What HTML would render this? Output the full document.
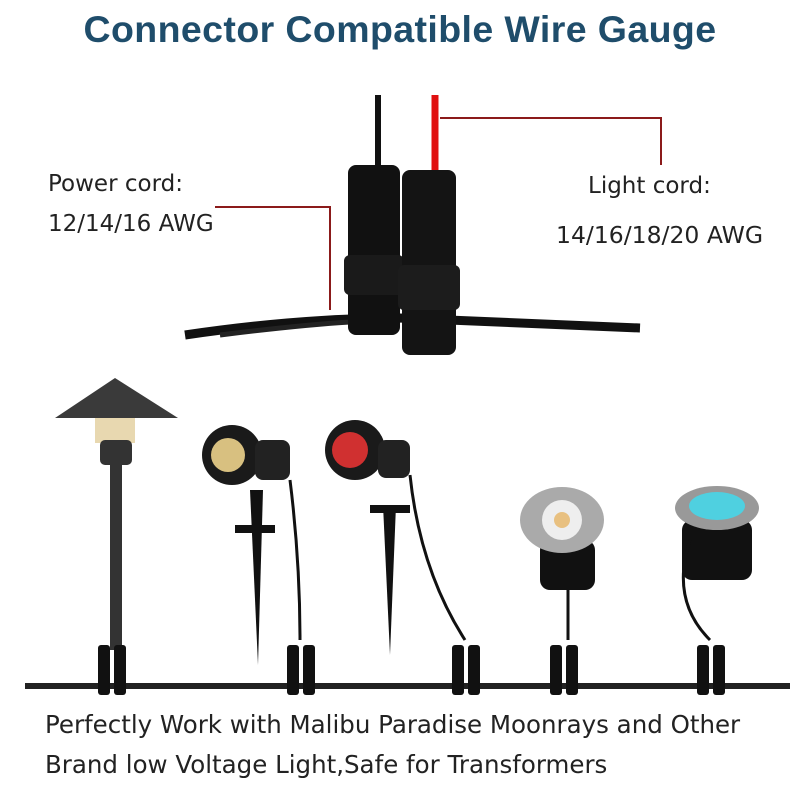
<!DOCTYPE html>
<html><head><meta charset="utf-8"><style>
body{margin:0;background:#fff;width:800px;height:800px;overflow:hidden;position:relative;font-family:"DejaVu Sans",sans-serif}
.t{position:absolute;white-space:nowrap;font-family:"DejaVu Sans",sans-serif}
</style></head><body>
<div class="t" style="left:0;width:800px;text-align:center;top:8px;font-size:37.5px;font-weight:bold;color:#1f4d6b;font-family:'Liberation Sans',sans-serif;letter-spacing:0.4px">Connector Compatible Wire Gauge</div>
<div class="t" style="left:48px;top:171px;font-size:23px;color:#222">Power cord:</div>
<div class="t" style="left:48px;top:211px;font-size:23px;color:#222">12/14/16 AWG</div>
<div class="t" style="left:588px;top:173px;font-size:23px;color:#222">Light cord:</div>
<div class="t" style="left:556px;top:221px;font-size:23.5px;color:#222">14/16/18/20 AWG</div>
<div class="t" style="left:45px;top:710px;font-size:24.5px;color:#222">Perfectly Work with Malibu Paradise Moonrays and Other</div>
<div class="t" style="left:45px;top:750px;font-size:24.5px;color:#222">Brand low Voltage Light,Safe for Transformers</div>
<svg width="800" height="800" style="position:absolute;left:0;top:0">
<path d="M378 95 L378 170" stroke="#111" stroke-width="6" fill="none"/>
<path d="M435 95 L435 175" stroke="#e01010" stroke-width="7" fill="none"/>
<path d="M185 335 Q300 318 400 318 L640 328" stroke="#111" stroke-width="9" fill="none"/>
<path d="M220 335 Q300 325 350 322" stroke="#222" stroke-width="5" fill="none"/>
<rect x="348" y="165" width="52" height="170" rx="8" fill="#111"/>
<rect x="344" y="255" width="60" height="40" rx="6" fill="#1a1a1a"/>
<rect x="402" y="170" width="54" height="185" rx="8" fill="#141414"/>
<rect x="398" y="265" width="62" height="45" rx="6" fill="#1c1c1c"/>
<path d="M215 207 L330 207 L330 310" stroke="#8b1a1a" stroke-width="2" fill="none"/>
<path d="M440 118 L661 118 L661 165" stroke="#8b1a1a" stroke-width="2" fill="none"/>
<path d="M25 686 L790 686" stroke="#222" stroke-width="6"/>
<path d="M55 418 L115 378 L178 418 Z" fill="#3a3a3a"/>
<rect x="95" y="418" width="40" height="25" fill="#e8d8b0"/>
<rect x="100" y="440" width="32" height="25" rx="5" fill="#333"/>
<rect x="110" y="465" width="12" height="185" fill="#333"/>
<circle cx="232" cy="455" r="30" fill="#1a1a1a"/><circle cx="228" cy="455" r="17" fill="#d8c080"/>
<rect x="255" y="440" width="35" height="40" rx="8" fill="#222"/>
<path d="M250 490 L258 665 L263 490 Z" fill="#111"/><rect x="235" y="525" width="40" height="8" fill="#111"/>
<path d="M290 480 Q300 560 300 640" stroke="#111" stroke-width="3" fill="none"/>
<circle cx="355" cy="450" r="30" fill="#1a1a1a"/><circle cx="350" cy="450" r="18" fill="#d03030"/>
<rect x="378" y="440" width="32" height="38" rx="8" fill="#222"/>
<path d="M383 505 L390 655 L396 505 Z" fill="#111"/><rect x="370" y="505" width="40" height="8" fill="#111"/>
<path d="M410 475 Q420 570 465 640" stroke="#111" stroke-width="3" fill="none"/>
<rect x="540" y="540" width="55" height="50" rx="10" fill="#111"/>
<ellipse cx="562" cy="520" rx="42" ry="33" fill="#aaa"/><circle cx="562" cy="520" r="20" fill="#eee"/><circle cx="562" cy="520" r="8" fill="#e8c080"/>
<path d="M568 590 L568 640" stroke="#111" stroke-width="3"/>
<rect x="682" y="520" width="70" height="60" rx="10" fill="#111"/>
<ellipse cx="717" cy="508" rx="42" ry="22" fill="#999"/><ellipse cx="717" cy="506" rx="28" ry="14" fill="#4fd0e0"/>
<path d="M690 540 Q670 600 710 640" stroke="#111" stroke-width="3" fill="none"/>
<g fill="#111">
<rect x="98" y="645" width="12" height="50" rx="3"/><rect x="114" y="645" width="12" height="50" rx="3"/>
<rect x="287" y="645" width="12" height="50" rx="3"/><rect x="303" y="645" width="12" height="50" rx="3"/>
<rect x="452" y="645" width="12" height="50" rx="3"/><rect x="468" y="645" width="12" height="50" rx="3"/>
<rect x="550" y="645" width="12" height="50" rx="3"/><rect x="566" y="645" width="12" height="50" rx="3"/>
<rect x="697" y="645" width="12" height="50" rx="3"/><rect x="713" y="645" width="12" height="50" rx="3"/>
</g>
</svg>
</body></html>
